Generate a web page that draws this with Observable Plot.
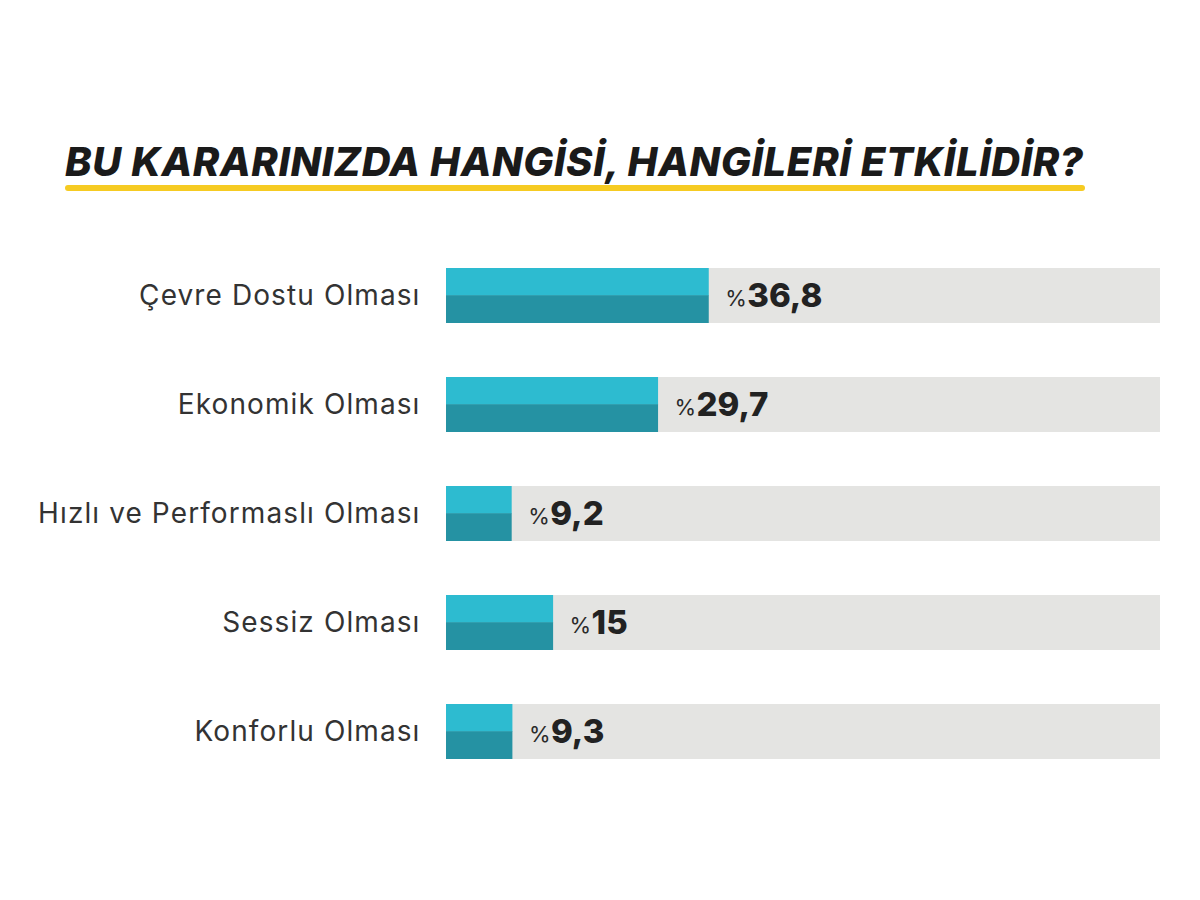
<!DOCTYPE html>
<html><head><meta charset="utf-8">
<script src="https://cdn.jsdelivr.net/npm/d3@7"></script>
<script src="https://cdn.jsdelivr.net/npm/@observablehq/plot@0.6"></script>
<style>
body{margin:0;background:#fff;width:1200px;height:900px;position:relative;overflow:hidden;font-family:Inter,"Open Sans",sans-serif;}
#title{position:absolute;left:65px;top:138px;font-size:40px;font-weight:800;font-style:italic;color:#1a1a1a;white-space:nowrap;line-height:48px;}
#uline{position:absolute;left:65px;top:185px;width:1020px;height:6px;background:#f6cb22;border-radius:3px;}
#chart{position:absolute;left:0;top:241px;}
#chart g[aria-label="y-axis tick label"] text{letter-spacing:1.1px;}
</style></head>
<body>
<div id="title">BU KARARINIZDA HANGİSİ, HANGİLERİ ETKİLİDİR?</div>
<div id="uline"></div>
<div id="chart"></div>
<script>
const categories = ["Çevre Dostu Olması","Ekonomik Olması","Hızlı ve Performaslı Olması","Sessiz Olması","Konforlu Olması"];
const values = [36.8, 29.7, 9.2, 15, 9.3];
const valueLabels = ["36,8","29,7","9,2","15","9,3"];
const maxValue = 100;

const data = categories.map((c,i)=>({cat:c, value:values[i], label:valueLabels[i], full:maxValue}));
const half = 27.25;

const chart = Plot.plot({
  width: 1200,
  height: 545,
  marginLeft: 446,
  marginRight: 40,
  marginTop: 0,
  marginBottom: 0,
  x: {domain:[0,maxValue], axis:null},
  y: {domain: categories, paddingInner:0.5, paddingOuter:0.25, label:null},
  style:{fontFamily:"Inter, 'Open Sans', sans-serif"},
  marks: [
    Plot.barX(data, {x:"full", y:"cat", fill:"#e4e4e2"}),
    Plot.barX(data, {x:"value", y:"cat", fill:"#2dbbd0", insetBottom:half}),
    Plot.barX(data, {x:"value", y:"cat", fill:"#2592a3", insetTop:half}),
    Plot.text(data, {x:"value", y:"cat", text:()=>"%", dx:16, dy:3, textAnchor:"start", fontSize:22, fill:"#2a2a2a"}),
    Plot.text(data, {x:"value", y:"cat", text:"label", dx:38, textAnchor:"start", fontSize:33, fontWeight:800, fill:"#222"}),
    Plot.axisY({tickSize:0, tickPadding:26, fontSize:28, label:null, color:"#333"})
  ]
});
document.getElementById("chart").appendChild(chart);

// stretch title to the underline width
const t = document.getElementById("title");
const w = t.getBoundingClientRect().width;
const n = t.textContent.length;
t.style.letterSpacing = ((1018 - w) / (n - 1)) + "px";
</script>
</body></html>
